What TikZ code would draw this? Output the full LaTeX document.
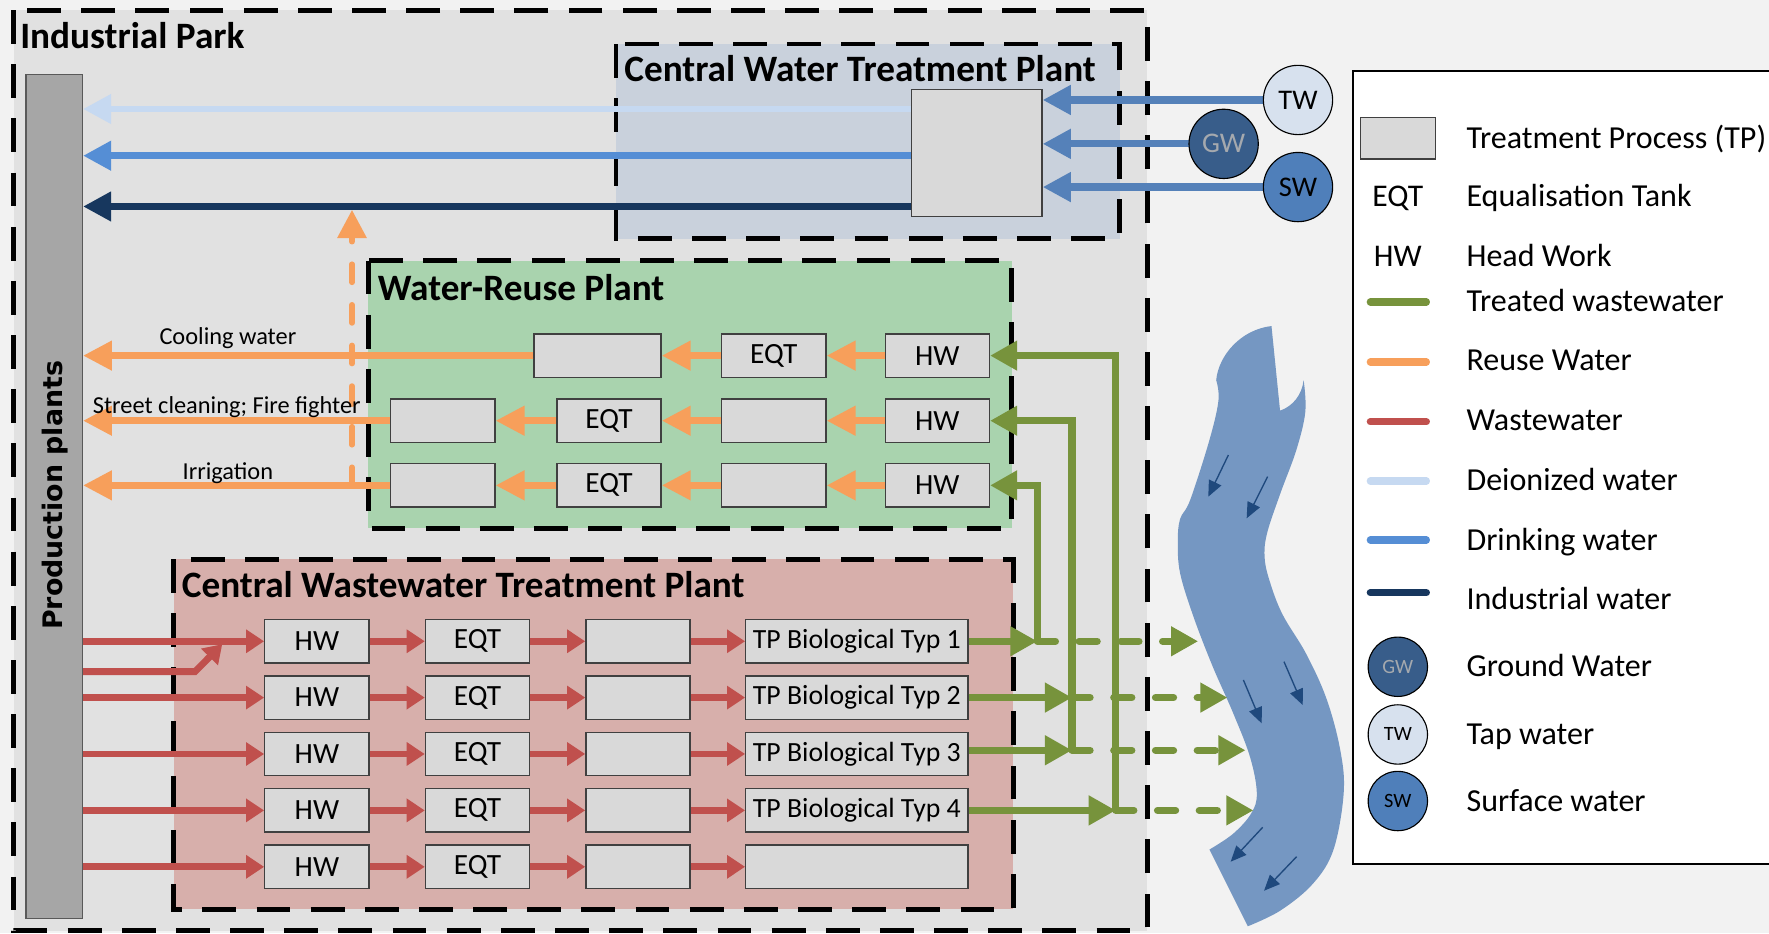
\documentclass[tikz,border=0pt]{standalone}
\usepackage{fontspec}
\setmainfont{Carlito}
\newfontfamily\dejavu{DejaVu Sans}
\usetikzlibrary{arrows.meta,calc}
\definecolor{bgout}{HTML}{F2F2F2}
\definecolor{parkfill}{HTML}{E1E1E1}
\definecolor{cwfill}{HTML}{C9D1DC}
\definecolor{reusefill}{HTML}{A9D3AE}
\definecolor{wwfill}{HTML}{D7AFAB}
\definecolor{tpfill}{HTML}{D9D9D9}
\definecolor{tpdraw}{HTML}{404040}
\definecolor{barfill}{HTML}{A6A6A6}
\definecolor{orangec}{HTML}{F79F5B}
\definecolor{redc}{HTML}{C0504D}
\definecolor{greenc}{HTML}{77933C}
\definecolor{deion}{HTML}{C6D9F1}
\definecolor{drink}{HTML}{558ED5}
\definecolor{indus}{HTML}{17375E}
\definecolor{inblue}{HTML}{5581B9}
\definecolor{riverc}{HTML}{7597C2}
\definecolor{riverarr}{HTML}{1F497D}
\definecolor{twfill}{HTML}{D7E1EE}
\definecolor{gwfill}{HTML}{385D8A}
\definecolor{swfill}{HTML}{4F7FBA}
\definecolor{gwtext}{HTML}{A5A9AE}
\tikzset{
  zone/.style={draw=black, line width=2.2pt, dash pattern=on 15pt off 9pt},
  ptitle/.style={anchor=base west, inner sep=0pt, font=\fontsize{16.5}{19}\selectfont\bfseries},
  tp/.style={draw=tpdraw, fill=tpfill, line width=0.6pt, minimum width=46.2pt, minimum height=19.2pt, inner sep=0pt, font=\fontsize{13}{15}\selectfont},
  tpwide/.style={tp, minimum width=98.5pt, font=\fontsize{12.3}{14}\selectfont},
  bigtip/.style={-{Triangle[width=12.5pt,length=12.5pt]}},
  oflow/.style={draw=orangec, line width=3pt, -{Triangle[width=12.5pt,length=12.8pt]}},
  rflow/.style={draw=redc, line width=3pt, -{Triangle[width=10pt,length=8pt]}},
  gflow/.style={draw=greenc, line width=3.2pt, -{Triangle[width=12.5pt,length=12pt]}},
  gdash/.style={dash pattern=on 8pt off 10.5pt, line cap=round},
  lab/.style={inner sep=0pt, font=\fontsize{10.8}{12}\selectfont},
  src/.style={circle, draw=black, line width=0.5pt, minimum size=30.7pt, inner sep=0pt, font=\fontsize{12.6}{14}\selectfont},
  lsrc/.style={circle, draw=black, line width=0.5pt, minimum size=26.3pt, inner sep=0pt, font=\fontsize{9}{10}\selectfont},
  legtxt/.style={anchor=base west, inner sep=0pt, font=\fontsize{14.2}{16}\selectfont},
  legabbr/.style={anchor=base, inner sep=0pt, font=\fontsize{14}{16}\selectfont},
  legline/.style={line width=3.2pt, line cap=round},
  rarrow/.style={draw=riverarr, line width=0.6pt, -{Triangle[width=6pt,length=7pt]}}
}
\begin{document}
\begin{tikzpicture}[x=0.5pt,y=-0.5pt]
\useasboundingbox (0,0) rectangle (1568,827);
\clip (0,0) rectangle (1568,827);
\fill[bgout] (0,0) rectangle (1568,827);

% zones
\draw[zone, fill=parkfill] (12,9) rectangle (1017,825);
\draw[zone, fill=cwfill] (546,39) rectangle (992.4,211.5);
\draw[zone, fill=reusefill] (326.6,231) rectangle (896.6,468.3);
\draw[zone, fill=wwfill] (153.9,495.5) rectangle (898,806);

\node[ptitle] (tpark) at (17.6,42.8) {Industrial Park};
\node[ptitle] (tcw) at (553,72.4) {Central Water Treatment Plant};
\node[ptitle] (treuse) at (334.5,265.9) {Water-Reuse Plant};
\node[ptitle] (tww) at (160.8,529.7) {Central Wastewater Treatment Plant};

% production plants bar
\node[draw=black!65, fill=barfill, line width=0.6pt, minimum width=25pt, minimum height=374pt, inner sep=0pt] (bar) at (48,440) {};
\node[rotate=90, inner sep=0pt, font=\dejavu\bfseries\fontsize{11.9}{14}\selectfont] (ptext) at (48.5,439) {Production plants};

% central water treatment
\node[tp, minimum width=57.8pt, minimum height=56.25pt] (cw) at (865.8,135.4) {};
\coordinate (dI) at ([yshift=19.4pt]cw.west);
\coordinate (dD) at ([yshift=-1.3pt]cw.west);
\coordinate (dN) at ([yshift=-23.8pt]cw.west);
\draw[deion, line width=3pt, bigtip] (dI) -- (dI -| bar.east);
\draw[drink, line width=3.2pt, bigtip] (dD) -- (dD -| bar.east);
\draw[indus, line width=3.4pt, bigtip] (dN) -- (dN -| bar.east);

% sources
\coordinate (ctw) at (1150.5,88.6);
\coordinate (cgw) at (1084.6,127.5);
\coordinate (csw) at (1150.5,165.8);
\draw[inblue, line width=3.2pt, bigtip] (ctw) -- (ctw -| cw.east);
\draw[inblue, line width=3.2pt, bigtip] (cgw) -- (cgw -| cw.east);
\draw[inblue, line width=3.2pt, bigtip] (csw) -- (csw -| cw.east);
\node[src, fill=twfill] (tw) at (ctw) {TW};
\node[src, fill=gwfill, text=gwtext] (gw) at (cgw) {GW};
\node[src, fill=swfill] (sw) at (csw) {SW};

% water reuse plant
\node[tp, minimum width=56.25pt] (u1b) at (529.7,315.2) {};
\node[tp] (u1c) at (685.9,315.2) {EQT};
\node[tp] (u1d) at (830.8,315.2) {HW};
\node[tp] (u2a) at (392.5,372.9) {};
\node[tp] (u2b) at (539.8,372.9) {EQT};
\node[tp] (u2c) at (685.9,372.9) {};
\node[tp] (u2d) at (830.8,372.9) {HW};
\node[tp] (u3a) at (392.5,430.2) {};
\node[tp] (u3b) at (539.8,430.2) {EQT};
\node[tp] (u3c) at (685.9,430.2) {};
\node[tp] (u3d) at (830.8,430.2) {HW};

% orange dashed to industrial water
\coordinate (dvb) at (312,430.2);
\coordinate (dvt) at (312,186);
\draw[orangec, line width=2.5pt, dash pattern=on 8pt off 10pt, line cap=round, -{Triangle[width=12.5pt,length=12.5pt]}] (dvb) -- (dvt);

\draw[oflow] (u1d.west) -- (u1c.east);
\draw[oflow] (u1c.west) -- (u1b.east);
\draw[oflow] (u1b.west) -- (u1b.west -| bar.east);
\draw[oflow] (u2d.west) -- (u2c.east);
\draw[oflow] (u2c.west) -- (u2b.east);
\draw[oflow] (u2b.west) -- (u2a.east);
\draw[oflow] (u2a.west) -- (u2a.west -| bar.east);
\draw[oflow] (u3d.west) -- (u3c.east);
\draw[oflow] (u3c.west) -- (u3b.east);
\draw[oflow] (u3b.west) -- (u3a.east);
\draw[oflow] (u3a.west) -- (u3a.west -| bar.east);

\node[lab] (lcool) at (202,300) {Cooling water};
\node[lab] (lstreet) at (201,361) {Street cleaning; Fire fighter};
\node[lab] (lirr) at (202,419) {Irrigation};

% wastewater plant
\foreach \i/\y/\t in {1/568.4/TP Biological Typ 1,2/618.3/TP Biological Typ 2,3/668.3/TP Biological Typ 3,4/718.3/TP Biological Typ 4,5/768.3/}{
  \node[tp] (h\i) at (280.9,\y) {HW};
  \node[tp] (e\i) at (423.3,\y) {EQT};
  \node[tp] (b\i) at (565.5,\y) {};
  \node[tpwide] (t\i) at (759.5,\y) {\t};
  \draw[rflow] (h\i.west -| bar.east) -- (h\i.west);
  \draw[rflow] (h\i.east) -- (e\i.west);
  \draw[rflow] (e\i.east) -- (b\i.west);
  \draw[rflow] (b\i.east) -- (t\i.west);
}
\coordinate (x1) at (172.8,595.3);
\coordinate (x2) at (197,571);
\draw[rflow] (x1 -| bar.east) -- (x1) -- (x2);

% river
\fill[riverc] (1127,289) -- (1134.6,364) .. controls (1146,360) and (1154,350) .. (1155.5,337)
  -- plot[smooth, tension=0.6] coordinates {(1155.5,337) (1157,365) (1149,399) (1135,437) (1123,473) (1121,495) (1126,517) (1137,545) (1158,580) (1176,620) (1188,665) (1191,703) (1182,753) (1164,783) (1135,807) (1106,821)}
  -- (1072,753)
  -- plot[smooth, tension=0.6] coordinates {(1072,753) (1093,739) (1109,721) (1114,703) (1108,671) (1093,632) (1075,591) (1058,547) (1046,508) (1044,480) (1046,460) (1055,443) (1072,390) (1080,355) (1078,337)}
  .. controls (1080,315) and (1100,292) .. (1127,289) -- cycle;
\coordinate (ra1) at (1088.8,403.3); \coordinate (rb1) at (1071,440.2);
\coordinate (ra2) at (1123.6,422.5); \coordinate (rb2) at (1105,459.4);
\coordinate (ra3) at (1102.1,602.7); \coordinate (rb3) at (1118.3,641.1);
\coordinate (ra4) at (1138.1,586.5); \coordinate (rb4) at (1154.7,624.9);
\coordinate (ra5) at (1119.2,733.3); \coordinate (rb5) at (1090.8,763.8);
\coordinate (ra6) at (1149.3,759.3); \coordinate (rb6) at (1120.4,789.5);
\foreach \k in {1,...,6}{\draw[rarrow] (ra\k) -- (rb\k);}

% treated wastewater
\coordinate (j1) at (919.5,568.4);
\coordinate (j2) at (950.2,618.3);
\coordinate (j3) at (950.2,665);
\coordinate (j4) at (989,718.3);
\coordinate (rv1) at (1062,568.4);
\coordinate (rv2) at (1088,618.3);
\coordinate (rv3) at (1104,665);
\coordinate (rv4) at (1111,718.3);
\draw[gflow] (j1) |- (u3d.east);
\draw[gflow] (j3) |- (u2d.east);
\draw[gflow] (j4) |- (u1d.east);
\draw[gflow] (t1.east) -- (j1);
\draw[gflow] (t2.east) -- (j2);
\draw[gflow] ([yshift=1.65pt]t3.east) -- (j3);
\draw[gflow] (t4.east) -- (j4);
\draw[gflow, gdash] (j1) -- (rv1);
\draw[gflow, gdash] (j2) -- (rv2);
\draw[gflow, gdash] (j3) -- (rv3);
\draw[gflow, gdash] (j4) -- (rv4);

% legend
\draw[fill=white, line width=1pt] (1199,63) rectangle (1620,766);
\node[tp, minimum width=33.4pt, minimum height=18.5pt] (lgtp) at (1239.2,122.5) {};
\node[legtxt] (lt1) at (1299.5,131.5) {Treatment Process (TP)};
\node[legabbr] (la2) at (1239,183.2) {EQT};
\node[legtxt] (lt2) at (1299.5,183.2) {Equalisation Tank};
\node[legabbr] (la3) at (1239,236.4) {HW};
\node[legtxt] (lt3) at (1299.5,236.4) {Head Work};
\draw[legline, greenc] (1214.6,267.7) -- (1264.3,267.7);
\node[legtxt] (lt4) at (1299.5,276.3) {Treated wastewater};
\draw[legline, orangec] (1214.6,320.9) -- (1264.3,320.9);
\node[legtxt] (lt5) at (1299.5,328.5) {Reuse Water};
\draw[legline, redc] (1214.6,373.8) -- (1264.3,373.8);
\node[legtxt] (lt6) at (1299.5,382) {Wastewater};
\draw[legline, deion] (1214.6,426.4) -- (1264.3,426.4);
\node[legtxt] (lt7) at (1299.5,435) {Deionized water};
\draw[legline, drink] (1214.6,478.6) -- (1264.3,478.6);
\node[legtxt] (lt8) at (1299.5,487.5) {Drinking water};
\draw[legline, indus] (1214.6,525.3) -- (1264.3,525.3);
\node[legtxt] (lt9) at (1299.5,540.5) {Industrial water};
\node[lsrc, fill=gwfill, text=gwtext] (lgw) at (1239,591) {GW};
\node[legtxt] (lt10) at (1299.5,600) {Ground Water};
\node[lsrc, fill=twfill] (ltw) at (1239,651) {TW};
\node[legtxt] (lt11) at (1299.5,660) {Tap water};
\node[lsrc, fill=swfill] (lsw) at (1239,710) {SW};
\node[legtxt] (lt12) at (1299.5,719) {Surface water};
\end{tikzpicture}
\end{document}
